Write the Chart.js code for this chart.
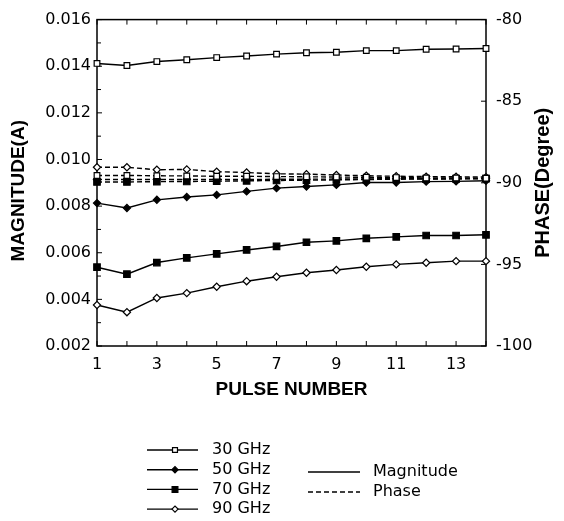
<!DOCTYPE html>
<html>
<head>
<meta charset="utf-8">
<script src="https://cdn.jsdelivr.net/npm/chart.js@4.4.1/dist/chart.umd.min.js"></script>
<style>
  html, body { margin: 0; padding: 0; background: #fff; }
  #wrap { width: 564px; height: 521px; }
</style>
</head>
<body>
<div id="wrap"><canvas id="chart" width="564" height="521"></canvas></div>
<script>
// ---- data ----
const pulses = [1, 2, 3, 4, 5, 6, 7, 8, 9, 10, 11, 12, 13, 14];
const xTickLabels = [1, 3, 5, 7, 9, 11, 13];
const magTicks = [0.002, 0.004, 0.006, 0.008, 0.010, 0.012, 0.014, 0.016];
const phaseTicks = [-100, -95, -90, -85, -80];

const freqs = ['30 GHz', '50 GHz', '70 GHz', '90 GHz'];

const mag30 = [0.01412, 0.01403, 0.01420, 0.01428, 0.01437, 0.01444, 0.01452, 0.01458, 0.01460, 0.01467, 0.01467, 0.01473, 0.01474, 0.01476];
const mag50 = [0.00813, 0.00792, 0.00827, 0.00839, 0.00848, 0.00863, 0.00877, 0.00884, 0.00891, 0.00901, 0.00901, 0.00905, 0.00906, 0.00909];
const mag70 = [0.00538, 0.00508, 0.00558, 0.00578, 0.00595, 0.00612, 0.00627, 0.00645, 0.00651, 0.00662, 0.00668, 0.00674, 0.00674, 0.00677];
const mag90 = [0.00376, 0.00345, 0.00406, 0.00427, 0.00454, 0.00478, 0.00497, 0.00514, 0.00526, 0.00540, 0.00550, 0.00557, 0.00564, 0.00564];

const phase30 = [-89.55, -89.55, -89.57, -89.58, -89.60, -89.60, -89.62, -89.63, -89.65, -89.66, -89.68, -89.70, -89.70, -89.72];
const phase50 = [-89.80, -89.80, -89.80, -89.80, -89.80, -89.80, -89.78, -89.78, -89.77, -89.76, -89.75, -89.75, -89.75, -89.74];
const phase70 = [-89.95, -89.95, -89.93, -89.92, -89.90, -89.88, -89.86, -89.84, -89.82, -89.80, -89.78, -89.77, -89.76, -89.75];
const phase90 = [-89.05, -89.05, -89.20, -89.18, -89.32, -89.37, -89.45, -89.47, -89.52, -89.57, -89.60, -89.62, -89.63, -89.65];

// marker look per frequency
const markers = [
    { style: 'rect',    fill: '#fff', radius: 4 },
    { style: 'rectRot', fill: '#000', radius: 3.6 },
    { style: 'rect',    fill: '#000', radius: 4.6 },
    { style: 'rectRot', fill: '#fff', radius: 3.6 },
];

const tickFont = { family: "'DejaVu Sans', sans-serif", size: 16 };
const titleFont = { family: "'Liberation Sans', Arial, sans-serif", size: 19, weight: 'bold' };

function series(label, values, m, axis, dashed) {
    return {
        label, yAxisID: axis,
        data: pulses.map((p, i) => ({ x: p, y: values[i] })),
        borderColor: '#000', borderWidth: 1.4, borderDash: dashed ? [5, 3] : [],
        pointStyle: m.style, pointRadius: m.radius, pointHoverRadius: m.radius,
        pointBackgroundColor: m.fill, pointBorderColor: '#000', pointBorderWidth: 1.2,
        tension: 0, clip: false,
    };
}

const mags = [mag30, mag50, mag70, mag90];
const phases = [phase30, phase50, phase70, phase90];
const datasets = [];
freqs.forEach((f, i) => datasets.push(series(f + ' phase', phases[i], markers[i], 'y1', true)));
freqs.forEach((f, i) => datasets.push(series(f, mags[i], markers[i], 'y', false)));

// frame + inward tick marks
const framePlugin = {
    id: 'frame',
    beforeDatasetsDraw(chart) {
        const { ctx, chartArea: a, scales } = chart;
        ctx.save();
        ctx.strokeStyle = '#000';
        ctx.lineWidth = 1.5;
        ctx.strokeRect(a.left, a.top, a.right - a.left, a.bottom - a.top);
        ctx.lineWidth = 1;
        ctx.beginPath();
        pulses.forEach(p => {
            const x = scales.x.getPixelForValue(p);
            ctx.moveTo(x, a.bottom); ctx.lineTo(x, a.bottom - 5);
            ctx.moveTo(x, a.top); ctx.lineTo(x, a.top + 5);
        });
        magTicks.forEach((v, i) => {
            const y = scales.y.getPixelForValue(v);
            ctx.moveTo(a.left, y); ctx.lineTo(a.left + 5, y);
            if (i > 0) {
                const ym = scales.y.getPixelForValue((v + magTicks[i - 1]) / 2);
                ctx.moveTo(a.left, ym); ctx.lineTo(a.left + 4, ym);
            }
        });
        phaseTicks.forEach(v => {
            const y = scales.y1.getPixelForValue(v);
            ctx.moveTo(a.right, y); ctx.lineTo(a.right - 5, y);
        });
        ctx.stroke();
        ctx.restore();
    },
    afterDraw(chart) {
        const { ctx, chartArea: a } = chart;
        ctx.save();
        // right axis title, reading bottom to top
        ctx.font = 'bold 20px "Liberation Sans", Arial, sans-serif';
        ctx.fillStyle = '#000';
        ctx.textAlign = 'center';
        ctx.textBaseline = 'middle';
        ctx.translate(543, (a.top + a.bottom) / 2);
        ctx.rotate(-Math.PI / 2);
        ctx.fillText('PHASE(Degree)', 0, 0);
        ctx.restore();

        // legend
        ctx.save();
        ctx.font = '16px "DejaVu Sans", sans-serif';
        ctx.textBaseline = 'middle';
        ctx.fillStyle = '#000';
        ctx.strokeStyle = '#000';
        freqs.forEach((f, i) => {
            const y = 450 + i * 19.7;
            ctx.lineWidth = 1.4;
            ctx.setLineDash([]);
            ctx.beginPath(); ctx.moveTo(147, y); ctx.lineTo(198, y); ctx.stroke();
            ctx.fillStyle = markers[i].fill;
            ctx.lineWidth = 1.2;
            Chart.helpers.drawPoint(ctx, { pointStyle: markers[i].style, radius: markers[i].radius - 0.5, rotation: 0, borderWidth: 1.2 }, 175, y);
            ctx.fillStyle = '#000';
            ctx.fillText(f, 212, y);
        });
        const lt = [['Magnitude', [], 472], ['Phase', [5, 3], 492]];
        lt.forEach(([t, dash, y]) => {
            ctx.lineWidth = 1.4;
            ctx.setLineDash(dash);
            ctx.beginPath(); ctx.moveTo(308, y); ctx.lineTo(360, y); ctx.stroke();
            ctx.fillText(t, 373, y);
        });
        ctx.restore();
    }
};

new Chart(document.getElementById('chart'), {
    type: 'line',
    data: { datasets },
    plugins: [framePlugin],
    options: {
        responsive: false, animation: false, devicePixelRatio: 1,
        layout: { padding: { top: 15, left: 0, right: 0, bottom: 111 } },
        plugins: { legend: { display: false }, tooltip: { enabled: false } },
        scales: {
            x: {
                type: 'linear', min: 1, max: 14,
                grid: { display: false, drawTicks: false }, border: { display: false },
                afterBuildTicks: s => { s.ticks = xTickLabels.map(v => ({ value: v })); },
                afterFit: s => { s.height = 64; },
                ticks: { color: '#000', font: tickFont, padding: 9, maxRotation: 0 },
                title: { display: true, text: 'PULSE NUMBER', color: '#000', font: titleFont, padding: { top: 4, bottom: 9 } },
            },
            y: {
                position: 'left', min: 0.002, max: 0.016,
                grid: { display: false, drawTicks: false }, border: { display: false },
                afterBuildTicks: s => { s.ticks = magTicks.map(v => ({ value: v })); },
                afterFit: s => { s.width = 97; },
                ticks: { color: '#000', font: tickFont, padding: 6, callback: v => v.toFixed(3) },
                title: { display: true, text: 'MAGNITUDE(A)   ', color: '#000', font: titleFont, padding: { top: 7 } },
            },
            y1: {
                position: 'right', min: -100, max: -80,
                grid: { display: false, drawTicks: false }, border: { display: false },
                afterBuildTicks: s => { s.ticks = phaseTicks.map(v => ({ value: v })); },
                afterFit: s => { s.width = 78; },
                ticks: { color: '#000', font: tickFont, padding: 10 },
            },
        },
    },
});
</script>
</body>
</html>
